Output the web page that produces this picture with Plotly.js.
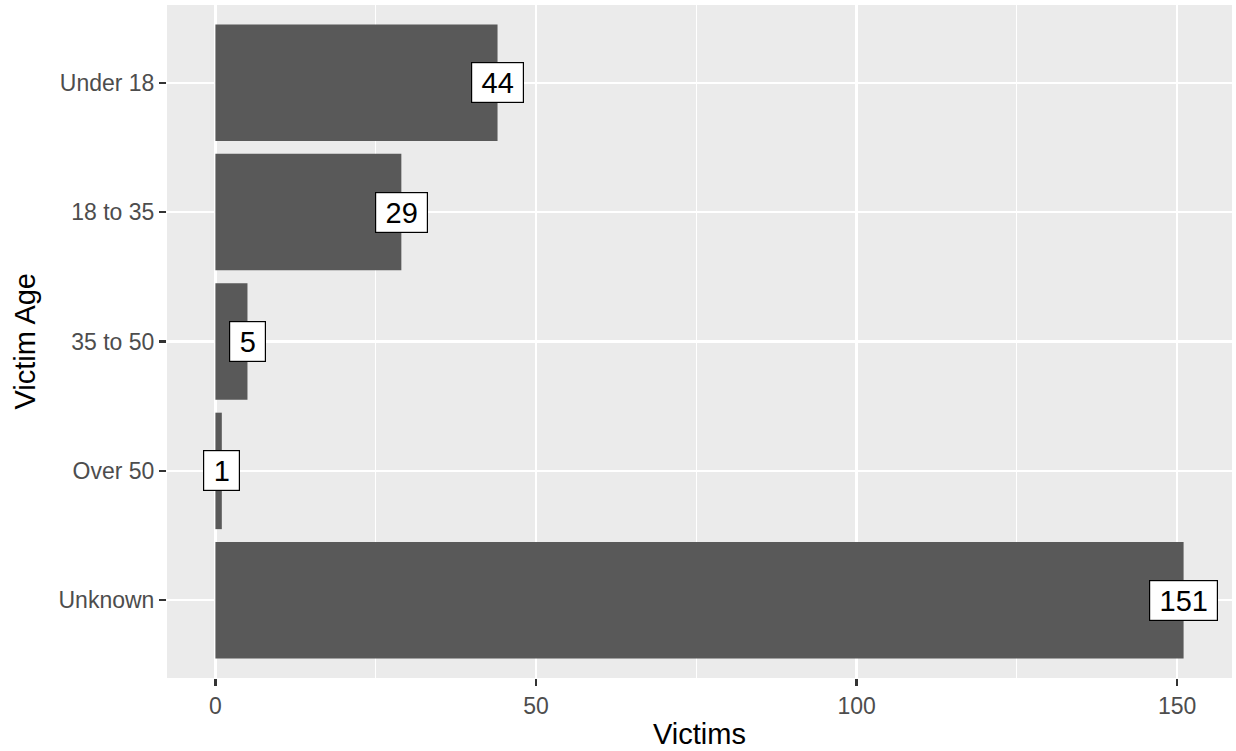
<!DOCTYPE html>
<html>
<head>
<meta charset="utf-8">
<script src="https://cdn.plot.ly/plotly-3.0.1.min.js"></script>
<style>html,body{margin:0;padding:0;background:#fff;}#chart{width:1236px;height:751px;}</style>
</head>
<body>
<div id="chart"></div>
<script>
const categories = ["Under 18", "18 to 35", "35 to 50", "Over 50", "Unknown"];
const victims = [44, 29, 5, 1, 151];
const xTickVals = [0, 50, 100, 150];
const xTickText = ["0", "50", "100", "150"];
const xTitle = "Victims";
const yTitle = "Victim Age";

const FONT = '"Liberation Sans", Arial, Helvetica, sans-serif';

const trace = {
  type: 'bar',
  orientation: 'h',
  x: victims,
  y: categories,
  width: 0.9,
  marker: {color: '#595959', line: {width: 0}},
  hoverinfo: 'x+y'
};

const annotations = categories.map((c, i) => {
  const txt = String(victims[i]);
  return {
    x: victims[i], y: c, xref: 'x', yref: 'y',
    text: txt, showarrow: false,
    xanchor: 'center', yanchor: 'middle',
    font: {family: FONT, size: 29, color: '#000000'},
    bgcolor: '#ffffff', bordercolor: '#000000', borderwidth: 1.2,
    borderpad: 3,
    width: txt.length * 16 + 13,
    height: 33
  };
});

// y-axis title placed as a rotated annotation (ggplot-like position)
annotations.push({
  xref: 'paper', yref: 'paper',
  x: (24 - 167) / 1065, y: 0.5,
  xanchor: 'center', yanchor: 'middle',
  text: yTitle, textangle: -90, showarrow: false,
  font: {family: FONT, size: 29, color: '#000000'}
});

const maxV = Math.max(...victims);
const pad = maxV * 0.05;

const layout = {
  width: 1236, height: 751,
  margin: {l: 167, r: 4, t: 5, b: 73, pad: 0},
  paper_bgcolor: '#ffffff',
  plot_bgcolor: '#EBEBEB',
  font: {family: FONT, color: '#4D4D4D'},
  showlegend: false,
  bargap: 0.1,
  xaxis: {
    range: [-pad, maxV + pad],
    tickmode: 'array', tickvals: xTickVals, ticktext: xTickText,
    ticks: 'outside', ticklen: 7, tickwidth: 2.2, tickcolor: '#333333',
    tickfont: {family: FONT, size: 23, color: '#4D4D4D'},
    showgrid: true, gridcolor: '#ffffff', gridwidth: 2.2,
    minor: {tickmode: 'array', tickvals: [25, 75, 125], showgrid: true, gridcolor: '#ffffff', gridwidth: 1.1, ticks: ''},
    zeroline: false, showline: false,
    title: {text: xTitle, font: {family: FONT, size: 29, color: '#000000'}, standoff: 6},
    fixedrange: true
  },
  yaxis: {
    type: 'category',
    categoryorder: 'array', categoryarray: categories.slice().reverse(),
    range: [-0.6, categories.length - 0.4],
    ticks: 'outside', ticklen: 7, tickwidth: 2.2, tickcolor: '#333333',
    tickfont: {family: FONT, size: 23, color: '#4D4D4D'},
    showgrid: true, gridcolor: '#ffffff', gridwidth: 2.2,
    zeroline: false, showline: false,
    fixedrange: true
  },
  annotations: annotations
};

Plotly.newPlot('chart', [trace], layout, {displayModeBar: false, staticPlot: true});
</script>
</body>
</html>
